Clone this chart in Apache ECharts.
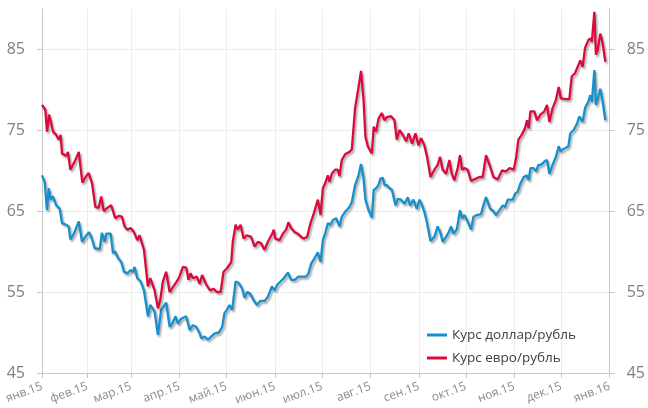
<!DOCTYPE html>
<html><head><meta charset="utf-8">
<script src="https://cdn.jsdelivr.net/npm/echarts@6/dist/echarts.min.js"></script>
<style>html,body{margin:0;padding:0;background:#fff}#c{width:648px;height:408px}</style>
</head><body><div id="c"></div>
<script>
const monthLabels = ['янв.15','фев.15','мар.15','апр.15','май.15','июн.15','июл.15','авг.15','сен.15','окт.15','ноя.15','дек.15','янв.16'];
const monthTickDays = [2,31,59,90,120,151,181,212,243,273,304,334,365];
const yTicks = [45,55,65,75,85];
const seriesNames = ['Курс доллар/рубль','Курс евро/рубль'];

const usdDays = [2,3.7,5.2,6.3,7.6,9.0,11.1,13.3,14.8,17.5,19.1,20.1,22.4,25.5,27.6,29.7,32.0,33.5,35.7,38.9,40.3,42.1,43.1,45.9,47.4,48.8,50.6,52.7,54.4,56.5,58.7,60.1,61.2,62.9,65.1,67.2,69.7,71.2,74.0,76.1,78.2,81.4,83.6,85.3,87.4,88.9,91.0,94.2,96.4,98.5,100.6,102.8,103.8,106.0,108.1,110.2,112.4,115.1,117.2,118.7,120.2,121.9,123.6,125.8,127.9,130.0,131.5,133.2,135.1,137.3,139.4,141.5,144.3,146.4,149.0,150.7,152.4,154.5,156.6,159.2,161.3,163.5,166.0,168.1,170.9,172.4,174.1,176.3,178.4,180.1,181.6,183.0,184.8,186.5,188.0,190.1,192.2,193.7,195.8,198.6,200.1,202.2,204.4,206.0,207.6,208.8,210.8,212.9,214.1,215.6,217.2,218.4,219.9,221.0,222.6,223.7,225.8,228.0,229.5,231.6,233.8,235.9,237.3,239.5,241.6,243.4,245.0,246.5,248.2,250.4,252.9,255.0,256.8,258.2,260.4,262.1,263.5,265.1,267.2,269.3,270.6,272.1,274.2,276.3,277.9,280.0,282.7,284.2,285.9,288.5,290.6,292.3,294.5,296.6,298.1,299.8,303.0,304.4,306.2,307.9,310.0,312.1,313.2,314.3,316.4,317.9,319.4,321.1,323.2,324.9,326.4,328.5,330.6,332.4,333.5,336.0,338.6,339.8,342.0,344.1,345.6,347.7,349.2,351.3,352.6,353.6,355.2,356.2,357.3,359.0,360.5,362.2];
const usdRates = [69.4,68.6,65.1,67.8,66.4,66.8,65.7,65.3,63.5,63.3,63.1,61.5,62.2,63.7,61.2,61.8,62.4,61.8,60.4,60.3,62.3,61.2,62.2,62.2,59.8,60.0,59.2,58.7,57.5,57.3,57.7,57.5,58.1,56.7,56.3,55.2,52.0,53.4,52.6,49.7,52.8,53.7,50.7,51.1,52.0,51.1,51.7,52.0,50.3,50.9,50.7,49.9,49.3,49.5,49.1,49.5,49.9,50.0,50.7,52.4,52.8,53.4,52.8,56.3,56.1,55.4,54.3,55.0,54.8,54.0,53.4,53.9,53.9,54.4,55.7,55.2,55.9,56.3,56.7,57.4,56.5,56.5,56.9,56.9,56.9,57.3,58.5,59.2,59.9,58.7,61.4,62.2,63.5,63.3,63.9,64.1,63.1,64.3,64.9,65.5,66.1,68.2,69.4,70.8,69.0,66.4,65.1,64.2,67.6,67.8,68.2,69.0,69.1,68.2,68.2,67.9,67.6,65.7,66.5,66.4,65.9,66.7,65.7,66.4,65.3,66.4,65.7,64.9,63.5,61.3,61.8,63.1,62.3,61.2,61.8,62.4,63.1,62.2,62.7,65.1,64.1,64.5,63.7,62.7,64.3,64.5,64.6,65.7,66.7,65.3,65.0,64.5,65.1,65.7,65.5,66.4,66.4,67.1,67.4,68.4,69.2,69.4,68.8,70.3,70.3,69.9,70.7,70.7,71.1,71.3,69.6,70.7,71.7,73.0,72.4,72.7,73.0,74.6,75.0,75.8,76.7,76.0,77.7,78.5,79.3,78.5,82.4,78.1,78.8,80.1,78.5,76.2];

const eurDays = [2,4.1,5.2,6.5,7.9,9.0,11.1,12.7,13.9,14.8,17.5,18.6,20.1,22.9,25.5,27.8,29.9,31.8,34.0,36.1,38.2,39.9,41.4,44.6,46.3,48.8,51.0,53.1,54.8,56.5,58.7,60.8,62.9,64.4,67.2,69.7,71.2,74.0,76.1,77.6,79.3,81.4,83.6,86.8,89.5,92.1,94.2,95.7,97.0,98.5,101.0,102.8,104.4,107.0,109.5,111.7,113.8,116.2,118.1,120.2,123.0,124.0,125.8,127.2,129.0,130.9,133.0,135.7,137.9,140.0,142.1,144.3,146.4,149.2,150.2,151.1,153.9,156.0,158.1,159.6,161.3,163.5,165.6,167.7,169.4,171.5,173.7,175.8,178.4,180.1,181.6,183.0,184.8,185.8,187.3,189.4,191.1,192.2,193.7,195.8,198.6,200.1,202.2,204.4,206.0,207.6,208.8,210.3,212.9,214.1,215.6,217.2,219.3,221.0,222.6,225.2,227.4,228.8,230.6,232.7,234.8,236.5,238.6,240.8,242.7,244.4,246.5,248.2,250.4,252.9,255.0,256.5,258.2,260.4,262.5,264.0,265.7,267.8,269.3,270.6,272.1,274.2,276.3,279.5,281.7,283.8,285.9,288.5,290.6,293.4,296.1,298.7,300.9,303.6,305.1,306.6,308.7,310.8,312.1,313.2,314.3,316.8,318.5,320.7,323.2,324.9,326.4,328.5,330.6,332.4,333.8,337.0,339.2,340.7,342.8,344.5,346.2,347.7,349.2,351.3,352.6,353.6,355.2,356.2,357.3,359.0,360.5,362.2];
const eurRates = [78.1,77.5,74.8,76.9,75.8,74.8,74.4,73.8,74.4,72.1,71.8,72.3,70.1,71.1,72.3,68.5,69.2,69.7,68.4,65.5,65.4,66.8,65.0,65.5,65.7,64.1,64.4,64.3,63.1,62.7,62.9,62.4,61.4,62.0,60.2,55.7,56.7,55.2,53.0,54.0,56.3,57.5,55.0,55.9,56.7,58.1,58.0,56.5,57.3,56.7,56.9,56.0,57.1,55.9,55.2,55.4,55.0,55.0,57.5,57.9,58.7,61.2,63.3,62.7,63.3,61.6,62.0,61.8,60.6,61.2,61.0,60.2,61.2,62.2,62.7,61.6,61.4,62.2,62.7,63.6,62.9,62.4,62.2,61.8,61.6,61.8,63.5,64.7,66.4,64.5,67.8,68.4,69.4,68.6,69.6,70.1,70.1,69.3,71.3,72.0,72.3,72.6,77.7,80.3,82.3,78.7,74.2,73.0,72.1,75.4,74.8,76.4,77.1,76.2,76.6,76.7,76.2,73.8,75.0,74.4,73.6,74.6,73.3,74.6,73.1,74.0,73.1,71.7,69.2,70.1,70.7,71.7,70.1,69.6,71.3,69.6,68.8,70.3,71.9,70.1,70.3,70.1,68.7,69.0,69.2,69.2,71.9,70.5,69.2,68.9,70.0,69.9,70.3,70.1,71.5,73.8,74.4,75.2,76.2,75.2,77.3,77.3,76.2,76.9,77.3,78.1,76.0,77.7,78.7,80.3,78.9,78.8,78.8,81.6,82.0,82.8,83.6,82.8,85.1,86.1,86.3,85.9,89.6,84.3,84.9,86.9,85.7,83.4];

const FONT = '"Open Sans", "Noto Sans", sans-serif';
const pair = (xs, ys) => xs.map((d, i) => [d, ys[i]]);
const lineShadow = {shadowColor: 'rgba(0,0,0,0.35)', shadowBlur: 2, shadowOffsetX: 1.5, shadowOffsetY: 2};

const yAxisBase = (pos) => ({
  type: 'value', position: pos, min: 45, max: 90,
  axisLine: {show: true, lineStyle: {color: '#c8c8c8', width: 1}},
  axisTick: {show: true, length: 5, lineStyle: {color: '#c8c8c8'}, customValues: yTicks},
  axisLabel: {customValues: yTicks, color: '#7f7f7f', fontSize: 16, fontFamily: FONT, margin: 17},
  splitLine: {show: pos === 'left', lineStyle: {color: '#ececec', width: 1}}
});

const chart = echarts.init(document.getElementById('c'), null, {renderer: 'canvas'});
chart.setOption({
  animation: false,
  backgroundColor: '#ffffff',
  grid: {left: 42, right: 37, top: 8.5, bottom: 35, containLabel: false},
  legend: {
    orient: 'vertical', left: 427, top: 328, itemGap: 9, padding: 0,
    itemWidth: 20, itemHeight: 3, icon: 'rect',
    textStyle: {color: '#404040', fontSize: 13.5, fontFamily: FONT},
    data: seriesNames
  },
  xAxis: {
    type: 'value', min: 2, max: 365,
    axisLine: {show: true, lineStyle: {color: '#c8c8c8'}},
    axisTick: {show: true, length: 5, lineStyle: {color: '#c8c8c8'}, customValues: monthTickDays},
    axisLabel: {
      customValues: monthTickDays, rotate: 20, margin: 13,
      color: '#8a8a8a', fontSize: 12, fontFamily: FONT,
      formatter: (v) => { const i = monthTickDays.indexOf(v); return i >= 0 ? monthLabels[i] : ''; }
    },
    splitLine: {show: true, lineStyle: {color: '#ececec', width: 1}}
  },
  yAxis: [yAxisBase('left'), yAxisBase('right')],
  series: [
    {name: seriesNames[0], type: 'line', yAxisIndex: 0, showSymbol: false, symbol: 'none',
     data: pair(usdDays, usdRates), color: '#1490CF',
     lineStyle: Object.assign({width: 2.3, color: '#1490CF'}, lineShadow)},
    {name: seriesNames[1], type: 'line', yAxisIndex: 0, showSymbol: false, symbol: 'none',
     data: pair(eurDays, eurRates), color: '#DC0A3C',
     lineStyle: Object.assign({width: 2.3, color: '#DC0A3C'}, lineShadow)}
  ]
});
</script></body></html>
